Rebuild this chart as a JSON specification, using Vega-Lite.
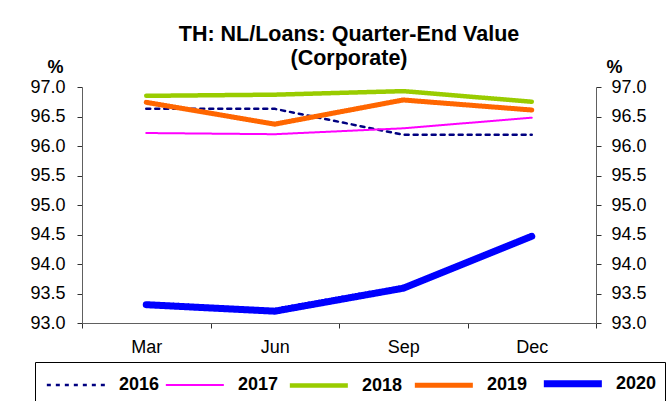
{
  "$schema": "https://vega.github.io/schema/vega-lite/v6.json",
  "width": 514,
  "height": 236,
  "autosize": {"type": "none"},
  "padding": {"left": 82, "top": 87, "right": 71, "bottom": 78},
  "background": "white",
  "config": {
    "view": {"stroke": null},
    "font": "Liberation Sans",
    "axis": {
      "grid": false,
      "domainColor": "#606060",
      "tickColor": "#303030",
      "labelColor": "#000000",
      "labelFont": "Liberation Sans",
      "labelFontSize": 18,
      "titleFont": "Liberation Sans",
      "titleColor": "#000000"
    },
    "legend": {
      "orient": "none",
      "legendX": -47,
      "legendY": 275,
      "direction": "horizontal",
      "columns": 5,
      "symbolType": "M-1,0H5",
      "symbolSize": 374,
      "labelFont": "Liberation Sans",
      "labelFontSize": 18,
      "labelFontWeight": "bold",
      "labelColor": "#000000",
      "labelOffset": 49,
      "columnPadding": 1,
      "padding": 8,
      "strokeColor": "#000000"
    }
  },
  "title": {
    "text": ["TH: NL/Loans: Quarter-End Value", "(Corporate)"],
    "font": "Liberation Sans",
    "fontSize": 21.5,
    "fontWeight": "bold",
    "color": "#000000",
    "anchor": "middle",
    "lineHeight": 24,
    "offset": -11,
    "dx": 10
  },
  "data": {
    "values": [
      {"quarter": "Mar", "year": "2016", "value": 96.63},
      {"quarter": "Jun", "year": "2016", "value": 96.63},
      {"quarter": "Sep", "year": "2016", "value": 96.19},
      {"quarter": "Dec", "year": "2016", "value": 96.19},
      {"quarter": "Mar", "year": "2017", "value": 96.22},
      {"quarter": "Jun", "year": "2017", "value": 96.20},
      {"quarter": "Sep", "year": "2017", "value": 96.30},
      {"quarter": "Dec", "year": "2017", "value": 96.48},
      {"quarter": "Mar", "year": "2018", "value": 96.85},
      {"quarter": "Jun", "year": "2018", "value": 96.87},
      {"quarter": "Sep", "year": "2018", "value": 96.93},
      {"quarter": "Dec", "year": "2018", "value": 96.75},
      {"quarter": "Mar", "year": "2019", "value": 96.74},
      {"quarter": "Jun", "year": "2019", "value": 96.37},
      {"quarter": "Sep", "year": "2019", "value": 96.78},
      {"quarter": "Dec", "year": "2019", "value": 96.61},
      {"quarter": "Mar", "year": "2020", "value": 93.31},
      {"quarter": "Jun", "year": "2020", "value": 93.20},
      {"quarter": "Sep", "year": "2020", "value": 93.59},
      {"quarter": "Dec", "year": "2020", "value": 94.47}
    ]
  },
  "encoding": {
    "x": {
      "field": "quarter",
      "type": "ordinal",
      "sort": ["Mar", "Jun", "Sep", "Dec"],
      "scale": {"type": "band", "paddingInner": 0, "paddingOuter": 0},
      "axis": {
        "title": null,
        "labelAngle": 0,
        "tickBand": "extent",
        "tickSize": 5,
        "labelPadding": 10
      }
    }
  },
  "layer": [
    {
      "mark": {"type": "line", "strokeCap": "round", "strokeJoin": "round"},
      "encoding": {
        "y": {
          "field": "value",
          "type": "quantitative",
          "scale": {"domain": [93, 97], "nice": false, "zero": false},
          "axis": {
            "orient": "left",
            "values": [93, 93.5, 94, 94.5, 95, 95.5, 96, 96.5, 97],
            "format": ".1f",
            "tickSize": 5,
            "labelPadding": 12,
            "title": "%",
            "titleAngle": 0,
            "titleAlign": "center",
            "titleBaseline": "alphabetic",
            "titleFontSize": 18,
            "titleFontWeight": "bold",
            "titleX": -27,
            "titleY": -15
          }
        },
        "color": {
          "field": "year",
          "type": "ordinal",
          "title": null,
          "scale": {
            "type": "ordinal",
            "domain": ["2016", "2017", "2018", "2019", "2020"],
            "range": ["#000080", "#FF00FF", "#99CC00", "#FF6600", "#0000FF"]
          }
        },
        "strokeDash": {
          "field": "year",
          "type": "ordinal",
          "title": null,
          "scale": {
            "type": "ordinal",
            "domain": ["2016", "2017", "2018", "2019", "2020"],
            "range": [[4, 5], [1, 0], [1, 0], [1, 0], [1, 0]]
          }
        },
        "strokeWidth": {
          "field": "year",
          "type": "ordinal",
          "title": null,
          "scale": {
            "type": "ordinal",
            "domain": ["2016", "2017", "2018", "2019", "2020"],
            "range": [2.5, 2, 4.5, 5, 7]
          }
        }
      }
    },
    {
      "mark": {"type": "point", "opacity": 0},
      "encoding": {
        "y": {
          "field": "value",
          "type": "quantitative",
          "scale": {"domain": [93, 97], "nice": false, "zero": false},
          "axis": {
            "orient": "right",
            "values": [93, 93.5, 94, 94.5, 95, 95.5, 96, 96.5, 97],
            "format": ".1f",
            "tickSize": 5,
            "labelPadding": 10,
            "title": "%",
            "titleAngle": 0,
            "titleAlign": "center",
            "titleBaseline": "alphabetic",
            "titleFontSize": 18,
            "titleFontWeight": "bold",
            "titleX": 18,
            "titleY": -15
          }
        }
      }
    }
  ],
  "resolve": {"axis": {"y": "independent"}}
}
